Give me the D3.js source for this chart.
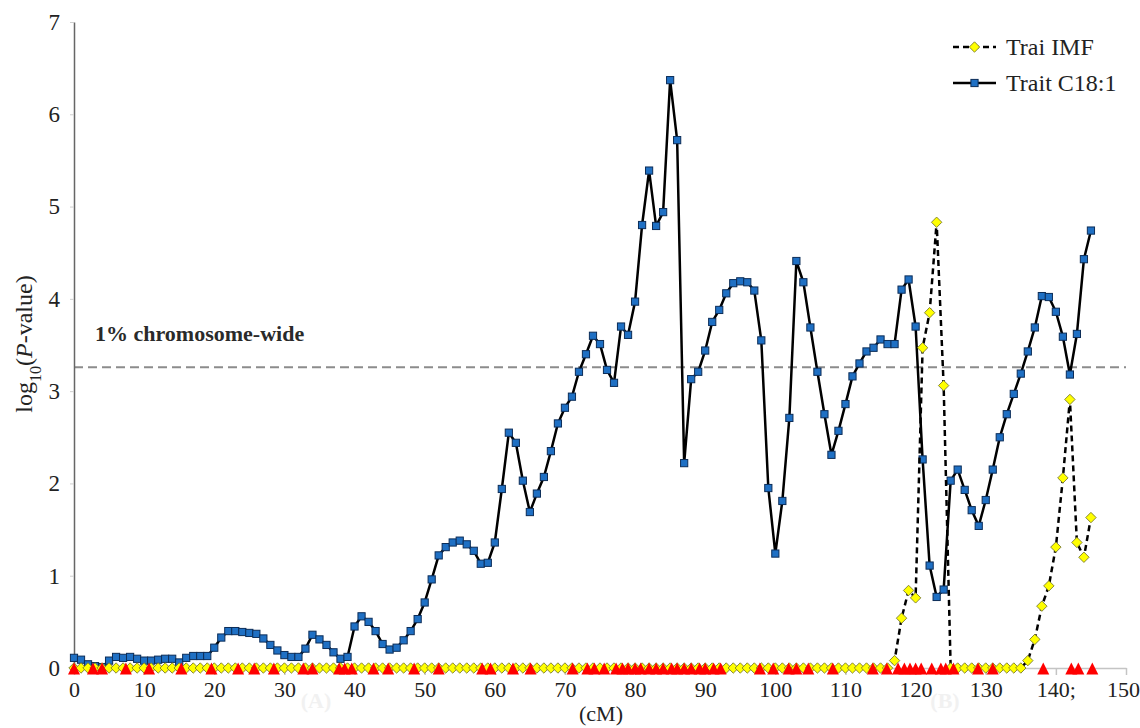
<!DOCTYPE html>
<html><head><meta charset="utf-8">
<script src="https://cdn.jsdelivr.net/npm/d3@7"></script>
<style>body{margin:0;background:#fff}svg text{font-family:"Liberation Serif","DejaVu Serif",serif}</style>
</head><body><svg id="c" width="1140" height="728"></svg>
<script>
const positions = [0,1,2,3,4,5,6,7,8,9,10,11,12,13,14,15,16,17,18,19,20,21,22,23,24,25,26,27,28,29,30,31,32,33,34,35,36,37,38,39,40,41,42,43,44,45,46,47,48,49,50,51,52,53,54,55,56,57,58,59,60,61,62,63,64,65,66,67,68,69,70,71,72,73,74,75,76,77,78,79,80,81,82,83,84,85,86,87,88,89,90,91,92,93,94,95,96,97,98,99,100,101,102,103,104,105,106,107,108,109,110,111,112,113,114,115,116,117,118,119,120,121,122,123,124,125,126,127,128,129,130,131,132,133,134,135,136,137,138,139,140,141,142,143,144,145];
const traitC18 = [0.11,0.09,0.04,0.02,0.01,0.08,0.12,0.11,0.12,0.10,
0.08,0.08,0.09,0.10,0.10,0.06,0.11,0.13,0.13,0.13,
0.22,0.33,0.40,0.40,0.39,0.38,0.37,0.32,0.25,0.19,
0.14,0.12,0.12,0.21,0.36,0.31,0.25,0.17,0.10,0.12,
0.45,0.56,0.50,0.40,0.26,0.20,0.22,0.30,0.40,0.53,
0.71,0.96,1.22,1.31,1.36,1.38,1.34,1.27,1.13,1.14,
1.36,1.94,2.55,2.44,2.03,1.69,1.89,2.07,2.35,2.65,
2.82,2.94,3.21,3.40,3.60,3.51,3.23,3.09,3.70,3.61,
3.97,4.80,5.39,4.79,4.94,6.37,5.72,2.22,3.13,3.21,
3.44,3.75,3.88,4.06,4.17,4.19,4.18,4.09,3.55,1.95,
1.24,1.81,2.71,4.41,4.18,3.69,3.21,2.75,2.31,2.57,
2.86,3.16,3.30,3.43,3.47,3.56,3.51,3.51,4.10,4.21,
3.70,2.26,1.11,0.77,0.85,2.03,2.15,1.93,1.71,1.54,
1.82,2.15,2.50,2.75,2.97,3.19,3.43,3.69,4.03,4.02,
3.86,3.59,3.18,3.62,4.43,4.74];
const traitIMF = [0,0,0,0,0,0,0,0,0,0,
0,0,0,0,0,0,0,0,0,0,
0,0,0,0,0,0,0,0,0,0,
0,0,0,0,0,0,0,0,0,0,
0,0,0,0,0,0,0,0,0,0,
0,0,0,0,0,0,0,0,0,0,
0,0,0,0,0,0,0,0,0,0,
0,0,0,0,0,0,0,0,0,0,
0,0,0,0,0,0,0,0,0,0,
0,0,0,0,0,0,0,0,0,0,
0,0,0,0,0,0,0,0,0,0,
0,0,0,0,0,0,0,0.08,0.54,0.84,
0.76,3.47,3.85,4.83,3.06,0,0,0,0,0,
0,0,0,0,0,0,0.08,0.31,0.67,0.89,
1.31,2.06,2.91,1.36,1.20,1.63];
const markerPositions = [0,2.7,4,7.4,10.7,15.3,19.6,23.4,25.7,28.5,32.7,34,37.8,38.6,39.6,42.7,44.8,48.5,52,58.2,59.4,62.6,65.1,71.1,73.2,74.2,75.6,77.3,78.2,79,80,80.8,82,83,84,85.2,86,87,88,89.2,90,91.2,92.2,97.8,99.7,101.9,103,104.7,108.2,113.9,115.9,117.5,118.4,119.2,120,120.8,122.3,123.6,124.3,125.4,128.9,131,138.2,142.2,143.2,145.2];
const xTicks = [0,10,20,30,40,50,60,70,80,90,100,110,120,130,140,150];
const xTickLabels = ["0","10","20","30","40","50","60","70","80","90","100","110","120","130","140;","150"];
const yTicks = [0,1,2,3,4,5,6,7];
const yTickLabels = ["0","1","2","3","4","5","6","7"];
const threshold = 3.26;
const thresholdLabel = "1% chromosome-wide";
const seriesNames = ["Trai IMF","Trait C18:1"];

const FONT = "'Liberation Serif','DejaVu Serif',serif";
const svg = d3.select("#c");
const x = d3.scaleLinear().domain([0,150]).range([74,1126]);
const y = d3.scaleLinear().domain([0,7]).range([668,22]);

// threshold line
svg.append("line").attr("x1",x(0)).attr("x2",x(150)).attr("y1",y(threshold)).attr("y2",y(threshold))
  .attr("stroke","#8c8c8c").attr("stroke-width",2).attr("stroke-dasharray","9,5");
svg.append("text").attr("x",95).attr("y",y(threshold)-31).attr("font-size",22).attr("font-weight","bold")
  .attr("fill","#2a2a2a").attr("dominant-baseline","middle").text(thresholdLabel);

// faint panel labels
svg.append("text").attr("x",316).attr("y",708).attr("text-anchor","middle").attr("font-size",22).attr("font-weight","bold").attr("fill","#f1f1f1").text("(A)");
svg.append("text").attr("x",945).attr("y",708).attr("text-anchor","middle").attr("font-size",22).attr("font-weight","bold").attr("fill","#f1f1f1").text("(B)");

// axes
const xAxis = d3.axisBottom(x).tickValues(xTicks).tickFormat((d,i)=>xTickLabels[i]).tickSize(7).tickPadding(6).tickSizeOuter(0);
const gx = svg.append("g").attr("transform",`translate(0,${y(0)})`).call(xAxis).attr("font-family",FONT).attr("font-size",22);
gx.select(".domain").attr("stroke","#c4c4c4").attr("stroke-width",1.5);
gx.selectAll(".tick line").attr("stroke","#c4c4c4").attr("stroke-width",1.5);
gx.selectAll(".tick text").attr("fill","#222").attr("dx",(d,i)=> i===xTicks.length-1 ? -3 : 0);

const yAxis = d3.axisLeft(y).tickValues(yTicks).tickFormat((d,i)=>yTickLabels[i]).tickSize(4).tickPadding(10).tickSizeOuter(0);
const gy = svg.append("g").attr("transform",`translate(${x(0)},0)`).call(yAxis).attr("font-family",FONT).attr("font-size",23);
gy.select(".domain").attr("stroke","#666").attr("stroke-width",1.5);
gy.selectAll(".tick line").attr("stroke","#cfcfcf");
gy.selectAll(".tick text").attr("fill","#222");

// axis titles
svg.append("text").attr("x",601).attr("y",721).attr("text-anchor","middle").attr("font-size",22).attr("fill","#222").text("(cM)");
const yl = svg.append("text").attr("transform","translate(32,344) rotate(-90)").attr("text-anchor","middle").attr("font-size",24).attr("fill","#222");
yl.append("tspan").text("log");
yl.append("tspan").attr("baseline-shift","sub").attr("font-size",16).text("10");
yl.append("tspan").text("(");
yl.append("tspan").attr("font-style","italic").text("P");
yl.append("tspan").text("-value)");

// series data
const c18 = positions.map((p,i)=>({x:p,y:traitC18[i]}));
const imf = positions.map((p,i)=>({x:p,y:traitIMF[i]}));
const line = d3.line().x(d=>x(d.x)).y(d=>y(d.y));

// blue series
svg.append("path").datum(c18).attr("d",line).attr("fill","none").attr("stroke","#000").attr("stroke-width",2.5).attr("stroke-linejoin","round");
svg.append("g").selectAll("rect").data(c18).join("rect")
  .attr("x",d=>x(d.x)-3.6).attr("y",d=>y(d.y)-3.6).attr("width",7.2).attr("height",7.2)
  .attr("fill","#1f70c4").attr("stroke","#0c2d58").attr("stroke-width",1);

// yellow series
svg.append("path").datum(imf).attr("d",line).attr("fill","none").attr("stroke","#000").attr("stroke-width",2.5).attr("stroke-dasharray","6,4");
svg.append("g").selectAll("path").data(imf).join("path")
  .attr("transform",d=>`translate(${x(d.x)},${y(d.y)})`)
  .attr("d","M0,-5.2L5.2,0L0,5.2L-5.2,0Z")
  .attr("fill","#ffff00").attr("stroke","#7b7b30").attr("stroke-width",0.9);

// red markers
svg.append("g").selectAll("path").data(markerPositions).join("path")
  .attr("transform",d=>`translate(${x(d)},${y(0)})`)
  .attr("d","M0,-5.5L6,6.5L-6,6.5Z").attr("fill","#ff0000");

// legend
const lg = svg.append("g");
const ly1 = 47, ly2 = 83;
lg.append("line").attr("x1",953).attr("x2",996).attr("y1",ly1).attr("y2",ly1).attr("stroke","#000").attr("stroke-width",2.5).attr("stroke-dasharray","6,4");
lg.append("path").attr("transform",`translate(974.5,${ly1})`).attr("d","M0,-5.2L5.2,0L0,5.2L-5.2,0Z").attr("fill","#ffff00").attr("stroke","#7b7b30").attr("stroke-width",0.9);
lg.append("text").attr("x",1006).attr("y",ly1).attr("dominant-baseline","central").attr("font-size",24).attr("fill","#222").text(seriesNames[0]);
lg.append("line").attr("x1",953).attr("x2",996).attr("y1",ly2).attr("y2",ly2).attr("stroke","#000").attr("stroke-width",2.5);
lg.append("rect").attr("x",974.5-3.6).attr("y",ly2-3.6).attr("width",7.2).attr("height",7.2).attr("fill","#1f70c4").attr("stroke","#0c2d58").attr("stroke-width",1);
lg.append("text").attr("x",1006).attr("y",ly2).attr("dominant-baseline","central").attr("font-size",24).attr("fill","#222").text(seriesNames[1]);
</script></body></html>
